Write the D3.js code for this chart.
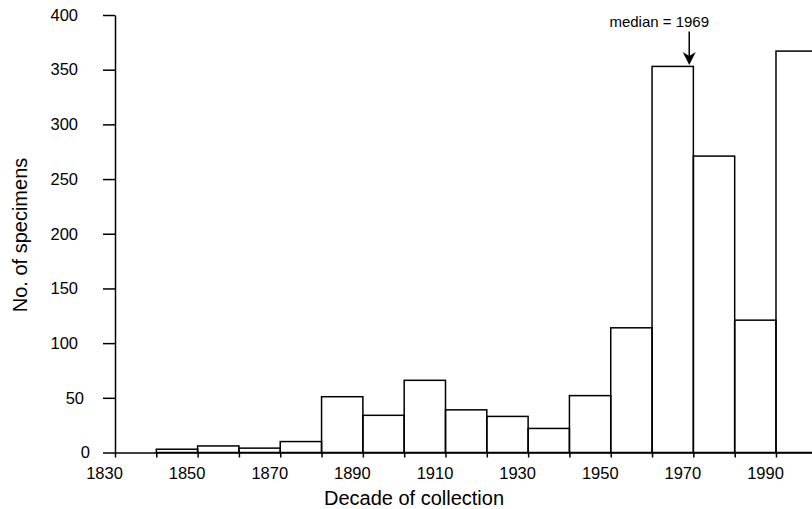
<!DOCTYPE html>
<html>
<head>
<meta charset="utf-8">
<script src="https://cdn.jsdelivr.net/npm/d3@7"></script>
<style>
  body { margin: 0; background: #fff; }
  svg text { font-family: "Liberation Sans", Arial, sans-serif; fill: #000; }
</style>
</head>
<body>
<div id="chart"></div>
<script>
// decade bins (left edge) and number of specimens in each
var decades = [1840, 1850, 1860, 1870, 1880, 1890, 1900, 1910, 1920, 1930, 1940, 1950, 1960, 1970, 1980, 1990];
var counts = [3, 6, 4, 10, 51, 34, 66, 39, 33, 22, 52, 114, 353, 271, 121, 367];
var xTicks = [1830, 1840, 1850, 1860, 1870, 1880, 1890, 1900, 1910, 1920, 1930, 1940, 1950, 1960, 1970, 1980, 1990];
var yTicks = [0, 50, 100, 150, 200, 250, 300, 350, 400];
var medianYear = 1969;

var width = 812, height = 509;
var svg = d3.select('#chart').append('svg')
  .attr('width', width)
  .attr('height', height);

var x = d3.scaleLinear().domain([1830, 2000]).range([115, 817.3]);
var y = d3.scaleLinear().domain([0, 400]).range([452.5, 15]);

/*
  bars
*/
svg.selectAll('rect.bar')
  .data(decades)
  .enter()
  .append('rect')
  .attr('class', 'bar')
  .attr('x', function(d) { return x(d); })
  .attr('y', function(d, i) { return y(counts[i]); })
  .attr('width', function(d) { return x(d + 10) - x(d); })
  .attr('height', function(d, i) { return y(0) - y(counts[i]); })
  .style('fill', 'none')
  .style('stroke', 'black')
  .style('stroke-width', 1.5);

/*
  x axis
*/
var xAxis = svg.append('g')
  .attr('transform', 'translate(0,' + y(0) + ')')
  .call(d3.axisBottom(x)
    .tickValues(xTicks)
    .tickSize(5)
    .tickSizeOuter(0)
    .tickPadding(10)
    .tickFormat(function(d) { return (d - 1830) % 20 === 0 ? d : ''; }));
xAxis.selectAll('text')
  .attr('dx', -11)
  .style('font-size', '16.5px');
xAxis.selectAll('line, path').style('stroke', 'black').style('stroke-width', 1.5);

/*
  y axis
*/
var yAxis = svg.append('g')
  .attr('transform', 'translate(' + x(1830) + ',0)')
  .call(d3.axisLeft(y)
    .tickValues(yTicks)
    .tickSize(12)
    .tickSizeOuter(0)
    .tickPadding(25));
yAxis.selectAll('text')
  .attr('dx', function(d) { return (3 - String(d).length) * 6; })
  .style('font-size', '16.5px');
yAxis.selectAll('line, path').style('stroke', 'black').style('stroke-width', 1.5);

/*
  axis titles
*/
svg.append('text')
  .attr('x', 414)
  .attr('y', 505)
  .attr('text-anchor', 'middle')
  .style('font-size', '20px')
  .text('Decade of collection');

svg.append('text')
  .attr('transform', 'translate(27,235) rotate(-90)')
  .attr('text-anchor', 'middle')
  .style('font-size', '20px')
  .text('No. of specimens');

/*
  median arrow
*/
var mx = x(medianYear);
svg.append('line')
  .attr('x1', mx).attr('y1', 31.5)
  .attr('x2', mx).attr('y2', 58)
  .style('stroke', 'black')
  .style('stroke-width', 1.5);
svg.append('path')
  .attr('d', 'M' + mx + ',65 L' + (mx - 6.5) + ',52 L' + mx + ',56 L' + (mx + 6.5) + ',52 Z')
  .style('fill', 'black');
svg.append('text')
  .attr('x', mx - 30)
  .attr('y', 26.5)
  .attr('text-anchor', 'middle')
  .style('font-size', '15px')
  .text('median = ' + medianYear);
</script>
</body>
</html>
